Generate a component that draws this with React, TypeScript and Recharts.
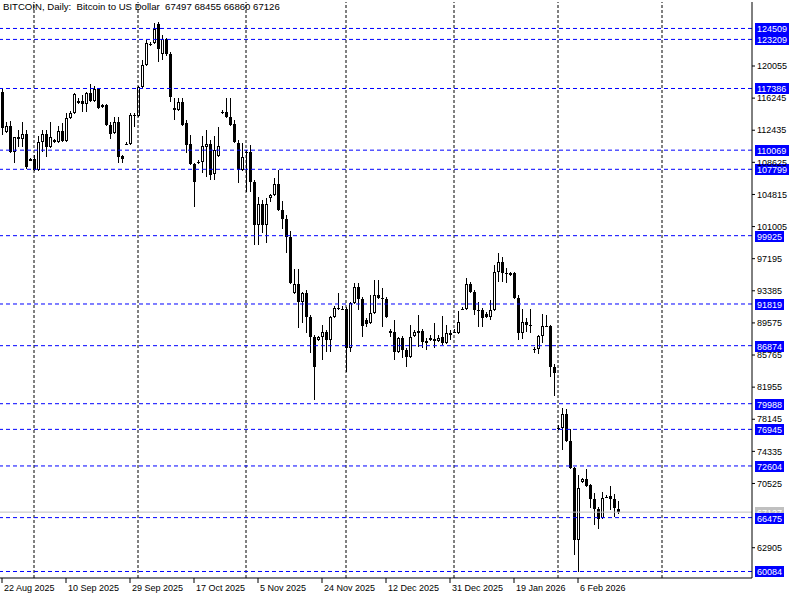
import React from 'react';
import { ComposedChart, Bar, XAxis, YAxis, ReferenceLine } from 'recharts';

// daily candles, 22 Aug 2025 .. 18 Feb 2026 (no Sundays)
const opens = [
  116970, 112225, 112936, 109852, 111632, 111394, 111987, 109021, 109021, 107716,
  111038, 111987, 110445, 111275, 111038, 112343, 111156, 113886, 114479, 115902,
  115902, 115546, 116851, 115902, 117326, 115428, 115428, 113055, 112106, 113411,
  109377, 110800, 110800, 114123, 114123, 117564, 120174, 122664, 122783, 125037,
  121478, 123258, 121478, 115072, 114835, 115784, 113292, 110800, 108429, 108666,
  108666, 110445, 110800, 107241, 109377, 114598, 114598, 114005, 113174, 110919,
  107716, 109852, 109852, 106293, 101191, 103682, 101191, 104394, 104750, 106055,
  102971, 101903, 99768, 93123, 94191, 92056, 93123, 90277, 87904, 87547,
  87904, 88497, 87547, 90277, 91344, 91225, 91225, 86598, 91937, 93836,
  92411, 89920, 89564, 90751, 92886, 92530, 92411, 88615, 88497, 86124,
  87785, 86361, 85531, 88022, 88615, 88615, 87428, 87547, 87666, 87428,
  87904, 87191, 88378, 88497, 88378, 91225, 91225, 94191, 93242, 91107,
  91107, 90632, 90277, 91107, 95615, 96802, 95496, 95496, 95496, 92530,
  88378, 89683, 89327, 86479, 86479, 88022, 89208, 89208, 84345, 77107,
  77107, 78768, 75565, 72362, 63819, 70701, 71056, 70345, 68684, 67497,
  66430, 68921, 69040, 68684, 67497,
];
const highs = [
  117445, 113411, 113529, 111632, 112462, 113411, 112462, 109140, 109496, 111750,
  112462, 112462, 113411, 111394, 112936, 113292, 114479, 114716, 116851, 116258,
  116614, 116970, 117919, 117682, 117445, 115546, 115546, 113411, 114005, 114005,
  109496, 111038, 114479, 114479, 117682, 120767, 123139, 122902, 125156, 125275,
  123733, 123377, 121716, 116258, 116258, 116258, 113648, 111869, 108547, 108903,
  111750, 112462, 111275, 111750, 112818, 114835, 116258, 116258, 113648, 111275,
  110919, 110089, 110682, 106530, 104513, 104157, 104394, 104869, 106767, 107716,
  104038, 102378, 100479, 95971, 95971, 93242, 93479, 90514, 88141, 88022,
  89327, 88734, 90396, 91581, 93123, 91581, 91463, 92056, 94310, 94310,
  92649, 90159, 92886, 94666, 94666, 93717, 92649, 88853, 89920, 87904,
  88022, 86598, 89327, 88734, 90514, 88853, 87785, 88141, 89564, 88141,
  90396, 89327, 88734, 88853, 90988, 91463, 94903, 94429, 93479, 92056,
  91344, 90870, 92293, 96446, 97869, 97394, 96090, 95615, 95615, 92886,
  91225, 90159, 91225, 86717, 88141, 90632, 90514, 89327, 84701, 77463,
  79480, 79361, 76988, 72480, 71531, 71175, 72243, 70463, 69396, 67735,
  69514, 69158, 70226, 69277, 68455,
];
const lows = [
  111869, 112106, 109733, 108547, 110445, 110445, 107835, 108784, 107597, 107597,
  109852, 109259, 110326, 110919, 110919, 111038, 111038, 113767, 114360, 115546,
  114598, 114598, 115784, 115784, 114953, 115072, 112936, 111394, 111987, 108547,
  108547, 110682, 110682, 112818, 114005, 117445, 120055, 122427, 122664, 120530,
  120767, 121241, 115784, 113648, 114716, 112936, 109733, 108310, 103327, 108429,
  107360, 106886, 106530, 106530, 109259, 114360, 113886, 112936, 110919, 106174,
  107597, 105106, 105106, 98818, 98818, 100242, 99055, 103920, 104632, 102852,
  100716, 97869, 94191, 93004, 88971, 89564, 88378, 86005, 80429, 87428,
  85175, 86124, 86124, 90159, 91107, 91107, 83751, 86124, 91818, 91107,
  87904, 89090, 89446, 90632, 92411, 89090, 90159, 87904, 85175, 86005,
  85412, 84345, 85412, 87904, 86717, 86598, 86361, 87428, 86598, 87310,
  86954, 87073, 87547, 88378, 88259, 91107, 91107, 93123, 90514, 89090,
  89090, 90159, 89920, 90988, 94429, 94429, 94310, 95140, 92411, 87547,
  87666, 88497, 88378, 86005, 85887, 87191, 89090, 83158, 80903, 76870,
  74497, 75446, 72243, 62040, 60050, 70582, 70108, 67616, 65599, 65124,
  66311, 68802, 67379, 66549, 66860,
];
const closes = [
  112699, 112936, 109852, 111632, 111394, 111987, 108073, 108784, 107716, 111038,
  111987, 110445, 111632, 111038, 112343, 111156, 113886, 114479, 116732, 115665,
  115546, 116851, 115902, 117326, 115072, 115191, 113055, 111987, 113411, 109259,
  109021, 110780, 114242, 114242, 117564, 120174, 122783, 122640, 124444, 122071,
  123258, 121478, 116377, 114835, 115784, 113055, 110682, 108429, 106293, 108640,
  110563, 110800, 107123, 110089, 110563, 114580, 114005, 113055, 111038, 107716,
  109259, 109830, 106293, 101191, 103682, 101191, 103682, 104750, 106055, 102971,
  101903, 99768, 94310, 94191, 92056, 93123, 90277, 87904, 84345, 87904,
  88497, 87547, 90277, 91344, 91320, 91210, 86598, 91937, 93836, 92411,
  89208, 89446, 90751, 92886, 92530, 92411, 90277, 88378, 86124, 87785,
  86361, 85531, 87904, 88497, 88378, 87310, 87191, 87785, 87428, 87785,
  87191, 88378, 88141, 88480, 89683, 91200, 94191, 93242, 91107, 91090,
  90159, 90277, 91107, 95615, 96802, 95496, 95470, 95259, 92530, 88378,
  89683, 89327, 89300, 86460, 88022, 89208, 89190, 84345, 83632, 77090,
  78768, 75565, 72362, 63819, 69989, 71056, 70226, 68684, 67497, 66311,
  68802, 68900, 68684, 67616, 67126,
];

const dateLabels = [
  '22 Aug 2025', '10 Sep 2025', '29 Sep 2025', '17 Oct 2025', '5 Nov 2025',
  '24 Nov 2025', '12 Dec 2025', '31 Dec 2025', '19 Jan 2026', '6 Feb 2026',
];
const dateTickIdx = dateLabels.map((_, k) => k * 16);
const priceTicks = [
  120055, 116245, 112435, 108625, 104815, 101005, 97195, 93385, 89575,
  85765, 81955, 78145, 74335, 70525, 62905,
];
const levels = [124509, 123209, 117386, 110069, 107799, 99925, 91819, 86874, 79988, 76945, 72604, 66475, 60084];
const monthLines = [8, 34, 61, 86, 113, 139, 165];
const lastPrice = 67127;
const slots = 188; // visible bar slots incl. empty space on the right

const rows = Array.from({ length: slots }, (_, i) =>
  i < opens.length
    ? { i, o: opens[i], h: highs[i], l: lows[i], c: closes[i], range: [lows[i], highs[i]] }
    : { i, range: null }
);

const FONT = '"Liberation Sans", Arial, sans-serif';

const Candle = (props: any) => {
  const { x, y, width, height, payload } = props;
  if (!payload || payload.o == null || !isFinite(y) || !isFinite(height)) return null;
  const top = Math.min(y, y + height);
  const span = Math.abs(height);
  const yOf = (v: number) => top + ((payload.h - v) / (payload.h - payload.l)) * span;
  const cx = Math.floor(x + width / 2);
  const wTop = Math.round(yOf(payload.h));
  const wBot = Math.round(yOf(payload.l));
  const bTop = Math.round(yOf(Math.max(payload.o, payload.c)));
  const bBot = Math.round(yOf(Math.min(payload.o, payload.c)));
  const bh = Math.max(1, bBot - bTop);
  const up = payload.c > payload.o;
  return (
    <g shapeRendering="crispEdges">
      <rect x={cx} y={wTop} width={1} height={Math.max(1, wBot - wTop)} fill="#000" />
      <rect x={cx - 1} y={bTop} width={3} height={bh} fill="#000" />
      {up && bh > 2 && <rect x={cx} y={bTop + 1} width={1} height={bh - 2} fill="#fff" />}
    </g>
  );
};

const Tag = (props: any) => {
  const { viewBox, text, fill, color } = props;
  if (!viewBox) return null;
  const yy = Math.round(viewBox.y);
  const xx = viewBox.x + viewBox.width + 3;
  return (
    <g>
      <rect x={xx} y={yy - 5} width={text.length * 5 + 4} height={11} fill={fill} />
      <text x={xx + 2} y={yy + 4} fill={color} fontSize={9} fontFamily={FONT}>{text}</text>
    </g>
  );
};

const DateTick = (props: any) => {
  const { x, y, payload } = props;
  const label = dateLabels[payload.value / 16];
  return (
    <text x={x + 2} y={y + 8} fontSize={9} fontFamily={FONT} fill="#000" textAnchor="start">
      {label}
    </text>
  );
};

export default function App() {
  return (
    <div style={{ position: 'relative', width: 800, height: 600, background: '#fff' }}>
      <style>{'body{margin:0}'}</style>
      <ComposedChart
        width={800}
        height={600}
        data={rows}
        margin={{ top: 2, right: 0, bottom: 0, left: 0 }}
        barCategoryGap={0}
        barGap={0}
      >
        <XAxis xAxisId="top" orientation="top" dataKey="i" height={0} tick={false} tickLine={false} axisLine={{ stroke: '#000' }} />
        <XAxis
          dataKey="i"
          type="category"
          height={22}
          ticks={dateTickIdx}
          interval={0}
          tick={<DateTick />}
          tickSize={5}
          tickMargin={0}
          tickLine={{ stroke: '#000' }}
          axisLine={{ stroke: '#000' }}
        />
        <YAxis
          orientation="right"
          width={48}
          domain={[59311, 127648]}
          allowDataOverflow
          ticks={priceTicks}
          interval={0}
          tickSize={3}
          tickMargin={2}
          tick={{ fontSize: 9, fontFamily: FONT, fill: '#000' }}
          tickLine={{ stroke: '#000' }}
          axisLine={{ stroke: '#000' }}
        />
        {monthLines.map((m) => (
          <ReferenceLine key={'m' + m} x={m} stroke="#000" strokeDasharray="3 2" ifOverflow="extendDomain" />
        ))}
        <ReferenceLine
          y={lastPrice}
          stroke="#c0c0c0"
          label={(p: any) => <Tag {...p} text={String(lastPrice)} fill="#c0c0c0" color="#fff" />}
        />
        {levels.map((lv) => (
          <ReferenceLine
            key={'l' + lv}
            y={lv}
            stroke="#0000ff"
            strokeDasharray="4 3"
            label={(p: any) => <Tag {...p} text={String(lv)} fill="#0000ff" color="#fff" />}
          />
        ))}
        <Bar dataKey="range" shape={<Candle />} isAnimationActive={false} />
      </ComposedChart>
      <div
        style={{
          position: 'absolute',
          left: 3,
          top: 2,
          fontSize: 9.6,
          fontFamily: FONT,
          color: '#000',
          whiteSpace: 'pre',
          lineHeight: '10px',
        }}
      >
        {'BITCOIN, Daily:  Bitcoin to US Dollar  67497 68455 66860 67126'}
      </div>
    </div>
  );
}
